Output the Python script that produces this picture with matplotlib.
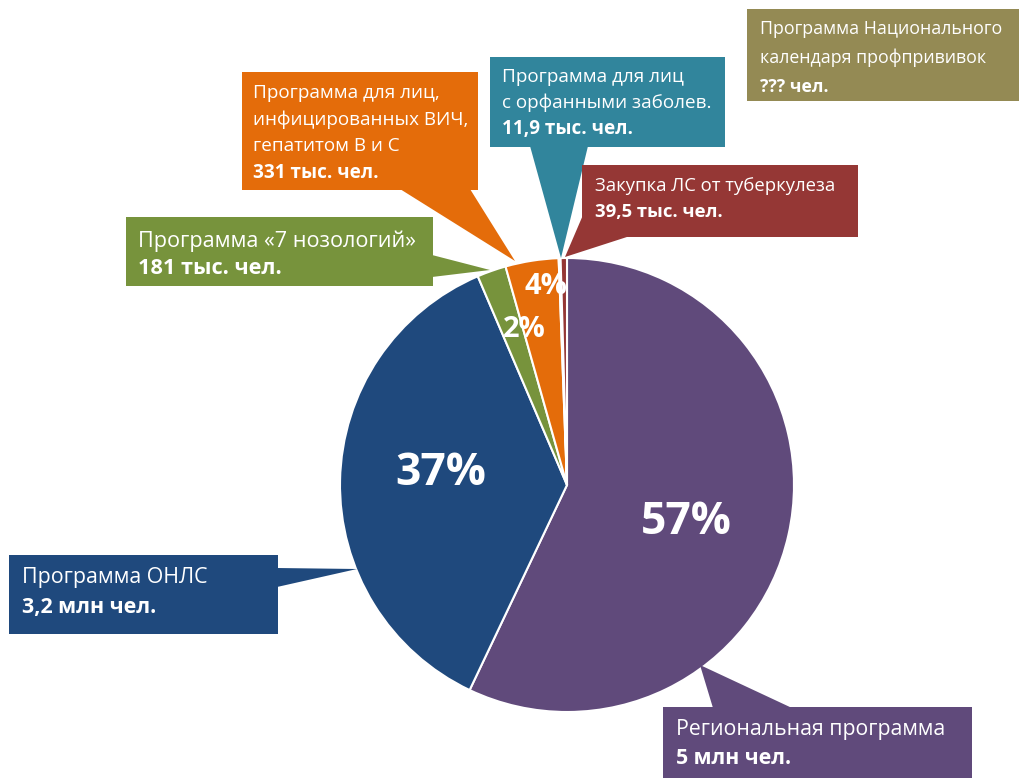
import numpy as np
import matplotlib
matplotlib.use("Agg")
import matplotlib.pyplot as plt
from matplotlib.patches import Rectangle, Polygon

plt.rcParams['font.family'] = ['Open Sans', 'DejaVu Sans']

# данные (тыс. чел.)
programs = ["Региональная программа", "Программа ОНЛС", "Программа «7 нозологий»",
            "Программа для лиц, инфицированных ВИЧ", "Программа для лиц с орфанными заболев.",
            "Закупка ЛС от туберкулеза"]
people = [5000, 3200, 181, 331, 11.9, 39.5]
colors = ["#604A7B", "#1F497D", "#77933C", "#E46C0A", "#31859C", "#953735"]
pct_labels = ["57%", "37%", "2%", "4%", "", ""]

W, H = 1020, 778
fig = plt.figure(figsize=(W / 100, H / 100), dpi=100)
ax = fig.add_axes([0, 0, 1, 1])

cx, cy, r = 567, H - 485, 227
wedges, _ = ax.pie(people, colors=colors, startangle=90, counterclock=False,
                   center=(cx, cy), radius=r, frame=True,
                   wedgeprops=dict(edgecolor="white", linewidth=1.5))
ax.set_xlim(0, W)
ax.set_ylim(0, H)
ax.set_aspect("equal")
ax.axis("off")

# проценты
dist = [0.55, 0.56, 0.71, 0.88, 0, 0]
shift = [-5, -4, -4, -3, 0, 0]
sizes = [32, 32, 21, 21, 0, 0]
for w, lab, d, da, s in zip(wedges, pct_labels, dist, shift, sizes):
    if not lab:
        continue
    ang = np.deg2rad((w.theta1 + w.theta2) / 2 + da)
    ax.text(cx + d * r * np.cos(ang), cy + d * r * np.sin(ang), lab,
            color="white", fontsize=s, fontweight="bold", ha="center", va="center")


def P(x, y):
    return (x, H - y)


def callout(box, tri, lines, color, size, tx, ty, step):
    x0, y0, x1, y1 = box
    ax.add_patch(Rectangle(P(x0, y1), x1 - x0, y1 - y0, facecolor=color, edgecolor="none"))
    if tri:
        ax.add_patch(Polygon([P(*p) for p in tri], closed=True, facecolor=color, edgecolor="none"))
    for i, line in enumerate(lines):
        bold = i == len(lines) - 1
        ax.text(*P(tx, ty + i * step), line, color="white", fontsize=size,
                fontweight="bold" if bold else "normal", ha="left", va="center")


callout((747, 9, 1020, 101), None,
        ["Программа Национального", "календаря профпрививок", "??? чел."],
        "#948A54", 12.8, 760, 29, 29)
callout((242, 72, 478, 190), [(400, 189), (470, 189), (515, 261)],
        ["Программа для лиц,", "инфицированных ВИЧ,", "гепатитом В и С", "331 тыс. чел."],
        colors[3], 13.6, 253, 93, 26.5)
callout((490, 57, 725, 147), [(530, 146), (588, 146), (561, 258)],
        ["Программа для лиц", "с орфанными заболев.", "11,9 тыс. чел."],
        colors[4], 13.6, 502, 77, 26)
callout((582, 165, 858, 237), [(583, 215), (630, 236), (565, 257)],
        ["Закупка ЛС от туберкулеза", "39,5 тыс. чел."],
        colors[5], 13.3, 595, 186, 26)
callout((126, 217, 433, 286), [(432, 255), (432, 277), (490, 270)],
        ["Программа «7 нозологий»", "181 тыс. чел."],
        colors[2], 15.6, 138, 241, 28)
callout((9, 555, 278, 634), [(277, 568), (277, 587), (357, 569)],
        ["Программа ОНЛС", "3,2 млн чел."],
        colors[1], 15.4, 22, 578, 29)
callout((663, 707, 972, 790), [(713, 708), (792, 708), (700, 665)],
        ["Региональная программа", "5 млн чел."],
        colors[0], 15.3, 676, 729, 29)

fig.savefig("out.png", dpi=100)
